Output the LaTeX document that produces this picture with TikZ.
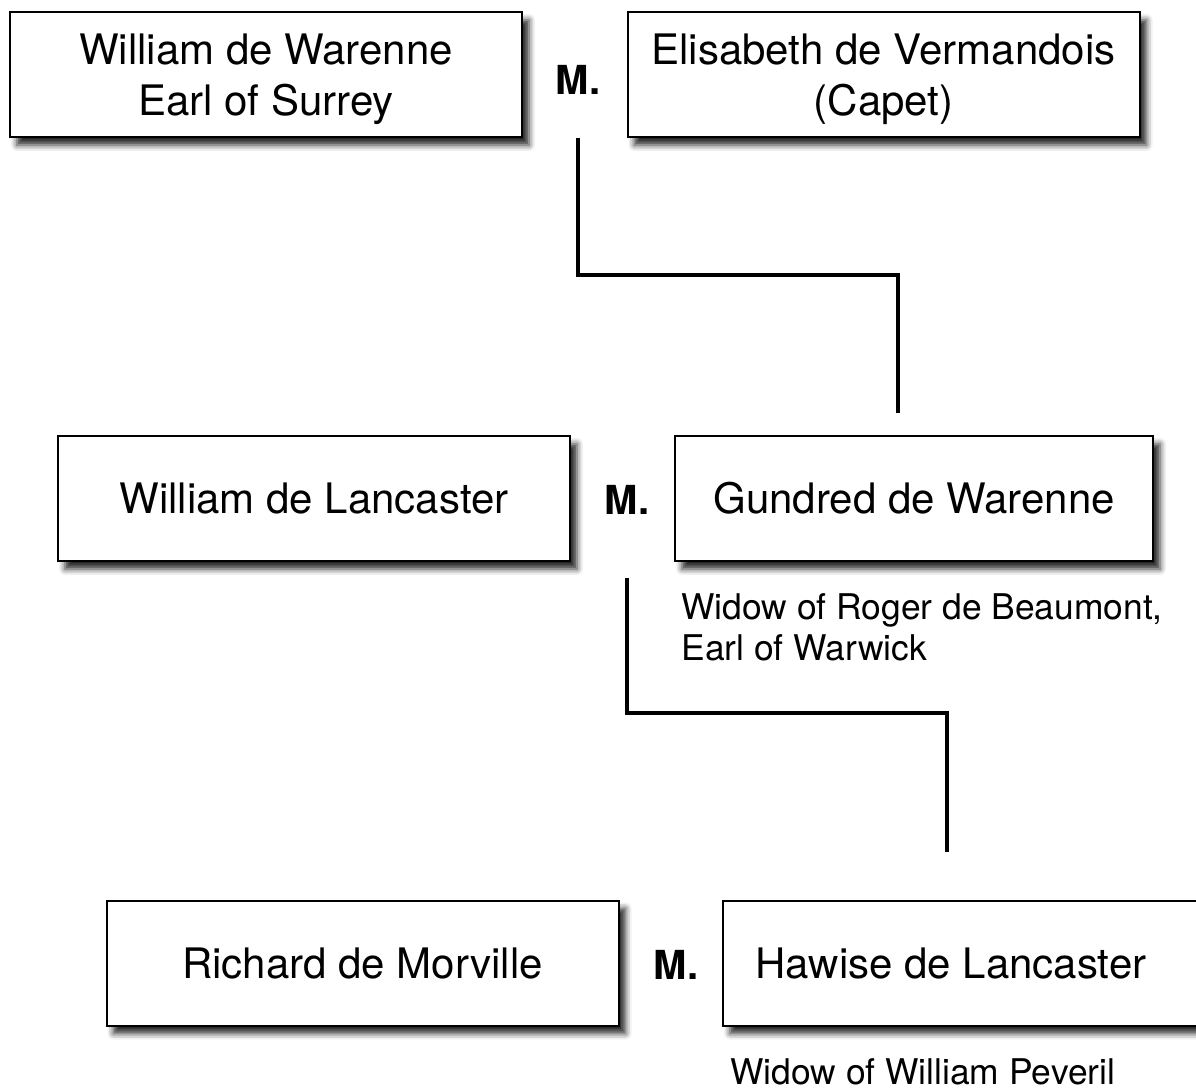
\documentclass[tikz,border=0pt]{standalone}
\usepackage{fontspec}
\setmainfont{TeX Gyre Heros}
\usetikzlibrary{shadows.blur}
\tikzset{
	person/.style={draw=black, line width=1pt, fill=white, minimum width=256pt, minimum height=62.5pt, align=center, inner sep=0pt, font=\fontsize{21}{25.5}\selectfont, blur shadow={shadow xshift=3.5pt, shadow yshift=-4pt, shadow blur radius=3pt, shadow opacity=85}},
	wed/.style={font=\fontsize{20}{24}\selectfont\bfseries, inner sep=0pt},
	note/.style={anchor=west, align=left, inner sep=0pt, font=\fontsize{17.7}{20.5}\selectfont},
	link/.style={line width=2pt}
}
\begin{document}
\begin{tikzpicture}[x=0.5pt, y=-0.5pt]
	\useasboundingbox (0,0) rectangle (1196,1088);
	\node[person] (wWarenne) at (266,74.5) {\rule{0pt}{20pt}William de Warenne\\Earl of Surrey};
	\node[person] (eVermandois) at (883.5,74.5) {\rule{0pt}{20pt}Elisabeth de Vermandois\\(Capet)};
	\node[wed] (m1) at (578,80) {M.};
	
	\node[person] (wLancaster) at (314,498.5) {William de Lancaster};
	\node[person, minimum width=239pt] (gWarenne) at (914,498.5) {Gundred de Warenne};
	\node[wed] (m2) at (627,500) {M.};
	\node[note] (n1) at (681,627.5) {Widow of Roger de Beaumont,\\Earl of Warwick};
	
	\node[person] (rMorville) at (362.5,963) {Richard de Morville};
	\node[person, minimum width=240pt] (hLancaster) at (963,963) {\hspace*{-12pt}Hawise de Lancaster};
	\node[wed] (m3) at (676,965) {M.};
	\node[note] (n2) at (730,1072) {Widow of William Peveril};
	
	\coordinate (j1) at (898,275);
	\coordinate (d1) at (898,413);
	\coordinate (s2) at (627,578);
	\coordinate (j2) at (947,713);
	\coordinate (d2) at (947,852);
	
	\draw[link] (m1 |- wWarenne.south) -- (m1 |- j1) -| (d1);
	\draw[link] (s2) -- (s2 |- j2) -| (d2);
	
\end{tikzpicture}
\end{document}
